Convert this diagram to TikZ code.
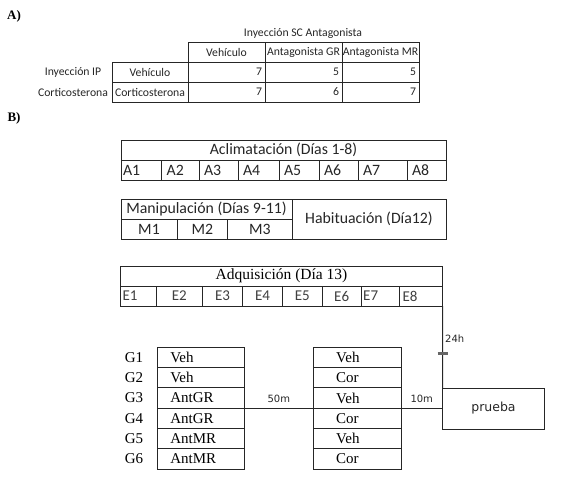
\documentclass[tikz,border=0pt]{standalone}
\usepackage{fontspec}
\setmainfont{Liberation Serif}
\newfontfamily\calibri{Carlito}
\newfontfamily\tahoma{DejaVu Sans}
\usetikzlibrary{positioning}

\begin{document}
\begin{tikzpicture}[x=1pt, y=-1pt]
        % Define styles
        \tikzstyle{cell} = [rectangle, draw=black!85, line width=1pt, inner sep=0pt, outer sep=0pt, minimum height=20pt, text=black!85]
        \tikzstyle{tab} = [cell, font=\calibri\fontsize{11.7}{13}\selectfont, minimum width=77pt]
        \tikzstyle{num} = [tab, text width=71pt, inner xsep=3pt, align=right]
        \tikzstyle{txt} = [inner sep=0pt, text=black!85, font=\calibri\fontsize{11.7}{13}\selectfont]
        \tikzstyle{title} = [inner sep=0pt, font=\bfseries\fontsize{13}{15}\selectfont]
        \tikzstyle{head} = [cell, font=\calibri\fontsize{15.8}{18}\selectfont]
        \tikzstyle{acell} = [head, align=left, inner xsep=5pt]
        \tikzstyle{ecell} = [cell, font=\calibri\fontsize{15}{17}\selectfont, text=black!75]
        \tikzstyle{gcell} = [cell, font=\fontsize{15}{17}\selectfont, text=black, minimum height=20.3pt, text width=60.7pt, inner xsep=13pt, align=left]
        \tikzstyle{mcell} = [gcell, text width=42.3pt, inner xsep=22.5pt]
        \tikzstyle{glab} = [inner sep=0pt, font=\fontsize{15}{17}\selectfont]
        \tikzstyle{small} = [inner sep=0pt, text=black!85, font=\tahoma\fontsize{10}{12}\selectfont]
        \tikzstyle{line} = [draw=black!85, line width=1pt]

        \useasboundingbox (0,0) rectangle (569,485);

        % Table A
        \node[title] (la) at (14,16) {A)};
        \node[txt] (sc) at (303,33) {Inyección SC Antagonista};
        \node[tab] (hveh) at (226.5,52) {Vehículo};
        \node[tab, right=0pt of hveh] (hgr) {Antagonista GR};
        \node[tab, right=0pt of hgr] (hmr) {Antagonista MR};
        \node[tab, minimum width=76pt, below left=0pt of hveh] (rveh) {Vehículo};
        \node[tab, minimum width=76pt, below=0pt of rveh] (rcort) {Corticosterona};
        \node[num, below=0pt of hveh] (n11) {7};
        \node[num, below=0pt of hgr] (n12) {5};
        \node[num, below=0pt of hmr] (n13) {5};
        \node[num, below=0pt of n11] (n21) {7};
        \node[num, below=0pt of n12] (n22) {6};
        \node[num, below=0pt of n13] (n23) {7};
        \node[txt] (ip) at (73,72) {Inyección IP};
        \node[txt] (cort) at (73,92) {Corticosterona};

        % Schedule B
        \node[title] (lb) at (14,118) {B)};
        \node[head, minimum width=325pt] (acl) at (283.5,150) {Aclimatación (Días 1-8)};
        \node[acell, inner xsep=2pt, text width=36.7pt, anchor=north west] (a1) at (acl.south west) {A1};
        \node[acell, text width=27.3pt, right=0pt of a1] (a2) {A2};
        \node[acell, text width=29pt, right=0pt of a2] (a3) {A3};
        \node[acell, text width=31pt, right=0pt of a3] (a4) {A4};
        \node[acell, text width=30pt, right=0pt of a4] (a5) {A5};
        \node[acell, text width=29pt, right=0pt of a5] (a6) {A6};
        \node[acell, text width=39pt, right=0pt of a6] (a7) {A7};
        \node[acell, text width=29pt, right=0pt of a7] (a8) {A8};

        \node[head, minimum width=171pt] (man) at (206.5,209) {Manipulación (Días 9-11)};
        \node[head, minimum width=56pt, anchor=north west] (m1) at (man.south west) {M1};
        \node[head, minimum width=50.7pt, right=0pt of m1] (m2) {M2};
        \node[head, minimum width=64.3pt, right=0pt of m2] (m3) {M3};
        \node[head, minimum width=154pt, minimum height=40pt, anchor=north west] (hab) at (man.north east) {Habituación (Día12)};

        \node[cell, font=\fontsize{15.5}{17}\selectfont, text=black, minimum width=322pt] (adq) at (281.5,276) {Adquisición (Día 13)};
        \node[ecell, align=left, inner xsep=2pt, text width=31.7pt, anchor=north west] (e1) at (adq.south west) {E1};
        \node[ecell, minimum width=46.3pt, right=0pt of e1] (e2) {E2};
        \node[ecell, minimum width=40pt, right=0pt of e2] (e3) {E3};
        \node[ecell, minimum width=40pt, right=0pt of e3] (e4) {E4};
        \node[ecell, minimum width=39.7pt, right=0pt of e4] (e5) {E5};
        \node[ecell, minimum width=39pt, right=0pt of e5] (e6) {E6};
        \node[ecell, align=left, inner xsep=2pt, text width=34.3pt, right=0pt of e6] (e7) {E7};
        \node[ecell, align=left, inner xsep=3pt, text width=37pt, right=0pt of e7] (e8) {E8};

        % Groups
        \node[gcell] (g1) at (200.65,357.45) {Veh};
        \node[gcell, below=0pt of g1] (g2) {Veh};
        \node[gcell, below=0pt of g2] (g3) {AntGR};
        \node[gcell, below=0pt of g3] (g4) {AntGR};
        \node[gcell, below=0pt of g4] (g5) {AntMR};
        \node[gcell, below=0pt of g5] (g6) {AntMR};
        \node[mcell] (c1) at (357.35,357.45) {Veh};
        \node[mcell, below=0pt of c1] (c2) {Cor};
        \node[mcell, below=0pt of c2] (c3) {Veh};
        \node[mcell, below=0pt of c3] (c4) {Cor};
        \node[mcell, below=0pt of c4] (c5) {Veh};
        \node[mcell, below=0pt of c5] (c6) {Cor};
        \node[glab, left=14pt of g1] (l1) {G1};
        \node[glab, left=14pt of g2] (l2) {G2};
        \node[glab, left=14pt of g3] (l3) {G3};
        \node[glab, left=14pt of g4] (l4) {G4};
        \node[glab, left=14pt of g5] (l5) {G5};
        \node[glab, left=14pt of g6] (l6) {G6};
        \node[cell, font=\tahoma\fontsize{12.5}{15}\selectfont, minimum width=102pt, minimum height=41pt, anchor=north west] (prueba) at (442.5,388) {prueba};

        % Arrows
        \draw[line] (e8.south east) -- (prueba.north west);
        \draw[line] (g3.south east) -- node[small, above=5pt] (t50) {50m} (c3.south west);
        \draw[line] (c3.south east) -- node[small, above=5pt] (t10) {10m} (c3.south east -| prueba.west);

        % Labels
        \coordinate (t24) at (442.5,353);
        \draw[black!60, line width=3pt] ([xshift=-5pt]t24) -- ([xshift=5pt]t24);
        \node[small, anchor=west] (h24) at (445,339) {24h};
    \end{tikzpicture}
\end{document}
